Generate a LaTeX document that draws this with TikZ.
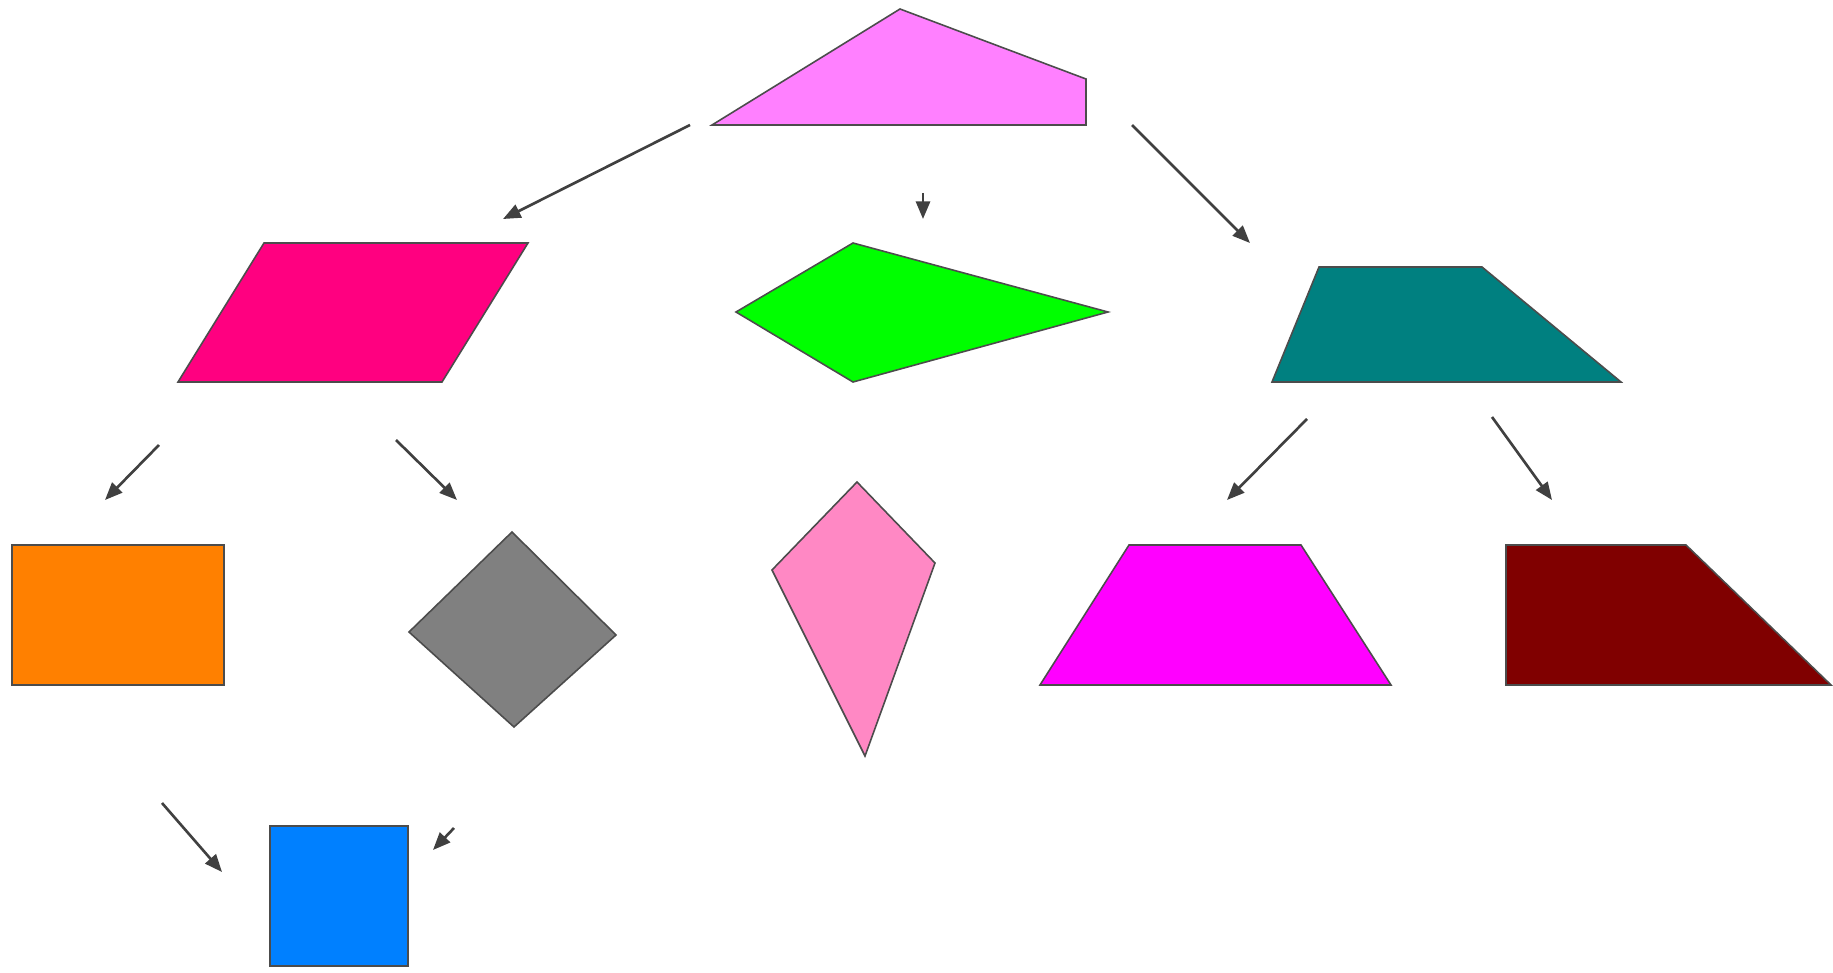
\documentclass[tikz,border=0pt]{standalone}
\usetikzlibrary{arrows.meta}
\definecolor{kitecol}{HTML}{FF80FF}
\definecolor{rhombcol}{HTML}{FF0080}
\definecolor{dartcol}{HTML}{00FF00}
\definecolor{trapcol}{HTML}{008080}
\definecolor{rectcol}{HTML}{FF8000}
\definecolor{rhomcol}{HTML}{808080}
\definecolor{pinkcol}{HTML}{FF88C4}
\definecolor{isocol}{HTML}{FF00FF}
\definecolor{rightcol}{HTML}{800000}
\definecolor{sqcol}{HTML}{0080FF}
\tikzset{
  piece/.style={draw=black!70,line width=0.9pt,line join=miter},
  link/.style={draw=black!75,line width=1.5pt,-{Triangle[length=10pt,width=8pt]}}
}
\begin{document}
\begin{tikzpicture}[x=0.02cm,y=0.02cm]
	\useasboundingbox (0,0) rectangle (1833,-973);
    \fill[white] (0,0) rectangle (1833,-973);
    \draw[piece,fill=kitecol] (712,-125) -- (900,-9) -- (1086,-79) -- (1086,-125) -- cycle;
    \draw[piece,fill=rhombcol] (178,-382) -- (264,-243) -- (528,-243) -- (442,-382) -- cycle;
    \draw[piece,fill=dartcol] (736,-312) -- (853,-243) -- (1108,-312) -- (853,-382) -- cycle;
    \draw[piece,fill=trapcol] (1272,-382) -- (1319,-267) -- (1482,-267) -- (1621,-382) -- cycle;
    \draw[piece,fill=rectcol] (12,-545) rectangle (224,-685);
    \draw[piece,fill=rhomcol] (512,-532) -- (616,-635) -- (514,-727) -- (409,-632) -- cycle;
    \draw[piece,fill=pinkcol] (857,-482) -- (935,-563) -- (865,-756) -- (772,-570) -- cycle;
    \draw[piece,fill=isocol] (1040,-685) -- (1129,-545) -- (1301,-545) -- (1391,-685) -- cycle;
    \draw[piece,fill=rightcol] (1506,-545) -- (1686,-545) -- (1831,-685) -- (1506,-685) -- cycle;
    \draw[piece,fill=sqcol] (270,-826) rectangle (408,-966);
    \coordinate (topL) at (690,-125);   \coordinate (parT) at (503,-219);
    \coordinate (topM) at (923,-193);   \coordinate (dartT) at (923,-219);
    \coordinate (topR) at (1132,-125);  \coordinate (trapT) at (1250,-243);
    \coordinate (parL) at (159,-445);   \coordinate (rectT) at (105,-500);
    \coordinate (parR) at (396,-440);   \coordinate (rhomT) at (457,-500);
    \coordinate (trapL) at (1307,-419); \coordinate (isoT) at (1227,-500);
    \coordinate (trapR) at (1492,-417); \coordinate (rightT) at (1552,-500);
    \coordinate (rectB) at (162,-803);  \coordinate (sqL) at (222,-872);
    \coordinate (rhomB) at (454,-828);  \coordinate (sqR) at (433,-850);
    \draw[link] (topL) -- (parT);
    \draw[link] (topM) -- (dartT);
    \draw[link] (topR) -- (trapT);
    \draw[link] (parL) -- (rectT);
    \draw[link] (parR) -- (rhomT);
    \draw[link] (trapL) -- (isoT);
    \draw[link] (trapR) -- (rightT);
    \draw[link] (rectB) -- (sqL);
    \draw[link] (rhomB) -- (sqR);
\end{tikzpicture}
\end{document}
